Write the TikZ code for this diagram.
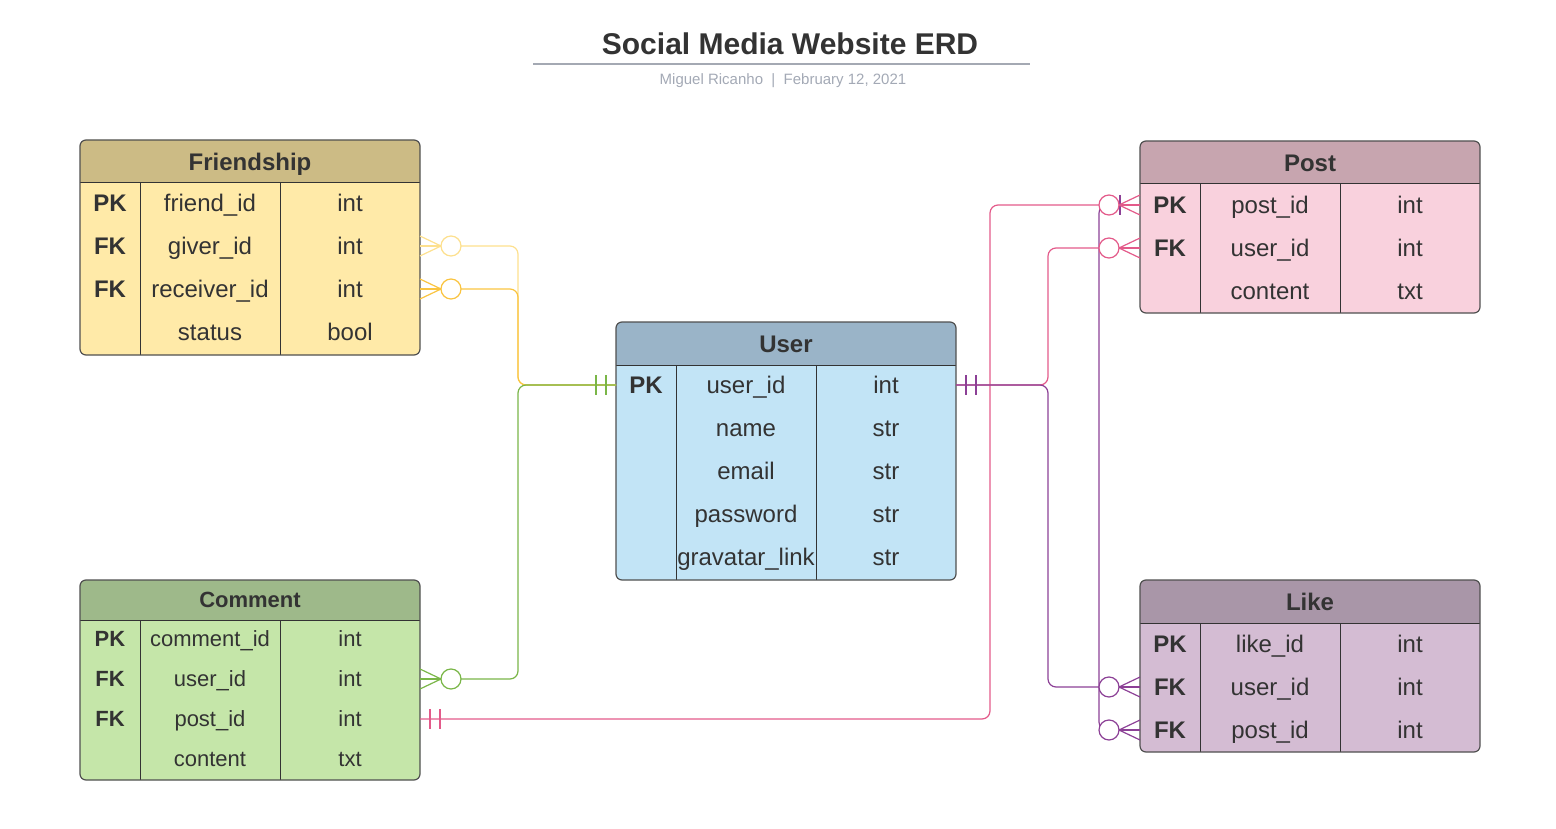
\documentclass[tikz,border=0pt]{standalone}
\usepackage{fontspec}
\setmainfont{Liberation Sans}
\usepackage{xcolor}
\definecolor{textColor}{RGB}{51, 51, 51}
\definecolor{boxLine}{RGB}{80, 80, 80}
\definecolor{friendHead}{RGB}{204, 187, 133}
\definecolor{friendBody}{RGB}{255, 234, 168}
\definecolor{commentHead}{RGB}{158, 185, 138}
\definecolor{commentBody}{RGB}{197, 230, 169}
\definecolor{userHead}{RGB}{154, 180, 200}
\definecolor{userBody}{RGB}{194, 228, 246}
\definecolor{postHead}{RGB}{199, 165, 175}
\definecolor{postBody}{RGB}{249, 209, 221}
\definecolor{likeHead}{RGB}{169, 150, 168}
\definecolor{likeBody}{RGB}{212, 188, 211}
\definecolor{giverLine}{RGB}{253, 224, 142}
\definecolor{receiverLine}{RGB}{250, 196, 64}
\definecolor{commentLine}{RGB}{122, 182, 72}
\definecolor{postLine}{RGB}{227, 90, 138}
\definecolor{likeLine}{RGB}{140, 64, 150}
\definecolor{ruleColor}{RGB}{164, 169, 179}
\definecolor{subColor}{RGB}{163, 169, 181}

\tikzset{
    entity/.style n args={3}{draw=boxLine, line width=1.2pt, rounded corners=6pt,
        minimum width=340pt, fill=#2, path picture={
            \begin{scope}[sharp corners]
                \fill[#1] (path picture bounding box.north west) rectangle ([yshift=-#3]path picture bounding box.north east);
                \draw[textColor, line width=1pt] ([yshift=-#3]path picture bounding box.north west) -- ([yshift=-#3]path picture bounding box.north east);
                \draw[textColor, line width=1pt] ([xshift=60pt, yshift=-#3]path picture bounding box.north west) -- ([xshift=60pt]path picture bounding box.south west);
                \draw[textColor, line width=1pt] ([xshift=200pt, yshift=-#3]path picture bounding box.north west) -- ([xshift=200pt]path picture bounding box.south west);
            \end{scope}}},
    bigtext/.style={font=\fontsize{24}{28}\selectfont, text height=22pt, text depth=4.8pt},
    smalltext/.style={font=\fontsize{22}{26}\selectfont, text height=20.2pt, text depth=4.4pt},
    headtext/.style={bigtext, font=\fontsize{24}{28}\selectfont\bfseries},
    keytext/.style={bigtext, font=\fontsize{24}{28}\selectfont\bfseries},
    celltext/.style={bigtext},
    rel/.style={line width=1.2pt, rounded corners=8pt},
    endline/.style={line width=1.2pt},
    pics/manyend/.style={code={
        \draw (0,-10) -- (-21,0) -- (0,10);
        \draw (0,0) -- (-21,0);
        \draw[fill=white] (-31,0) circle (10pt);
    }},
    pics/oneend/.style={code={
        \draw (-10,-10) -- (-10,10);
        \draw (-20,-10) -- (-20,10);
    }},
    pics/onebar/.style={code={
        \draw (-20,-10) -- (-20,10);
    }},
}

\begin{document}
\begin{tikzpicture}[x=1pt, y=-1pt,
    every node/.style={text=textColor, inner sep=0pt, outer sep=0pt}]
    \useasboundingbox (0,0) rectangle (1556,829);

    % Title
    \node[font=\fontsize{30}{36}\selectfont\bfseries, text height=27.6pt, text depth=6pt] (title) at (790,44) {Social Media Website ERD};
    \draw[ruleColor, line width=1.5pt] (533,64) -- (1030,64);
    \node[text=subColor, font=\fontsize{15}{18}\selectfont, text height=13.8pt, text depth=3pt] (byline) at (783,79) {Miguel Ricanho~~|~~February 12, 2021};

    % Friendship
    \node[entity={friendHead}{friendBody}{43pt}, minimum height=215pt] (friendship) at (250,247.5) {};
    \node[headtext] (friendship-title) at (250,161.5) {Friendship};
    \foreach \pk/\fld/\typ [count=\i] in {PK/friend\_id/int, FK/giver\_id/int, FK/receiver\_id/int, /status/bool} {
        \node[keytext] (friendship-k\i) at (110,160+43*\i) {\pk};
        \node[celltext] (friendship-f\i) at (210,160+43*\i) {\fld};
        \node[celltext] (friendship-t\i) at (350,160+43*\i) {\typ};
    }

    % Comment
    \node[entity={commentHead}{commentBody}{40pt}, minimum height=200pt] (comment) at (250,680) {};
    \node[smalltext, font=\fontsize{22}{26}\selectfont\bfseries] (comment-title) at (250,600) {Comment};
    \foreach \pk/\fld/\typ [count=\i] in {PK/comment\_id/int, FK/user\_id/int, FK/post\_id/int, /content/txt} {
        \node[smalltext, font=\fontsize{22}{26}\selectfont\bfseries] (comment-k\i) at (110,599+40*\i) {\pk};
        \node[smalltext] (comment-f\i) at (210,599+40*\i) {\fld};
        \node[smalltext] (comment-t\i) at (350,599+40*\i) {\typ};
    }

    % User
    \node[entity={userHead}{userBody}{43pt}, minimum height=258pt] (user) at (786,451) {};
    \node[headtext] (user-title) at (786,343.5) {User};
    \foreach \pk/\fld/\typ [count=\i] in {PK/user\_id/int, /name/str, /email/str, /password/str, /gravatar\_link/str} {
        \node[keytext] (user-k\i) at (646,342+43*\i) {\pk};
        \node[celltext] (user-f\i) at (746,342+43*\i) {\fld};
        \node[celltext] (user-t\i) at (886,342+43*\i) {\typ};
    }

    % Post
    \node[entity={postHead}{postBody}{43pt}, minimum height=172pt] (post) at (1310,227) {};
    \node[headtext] (post-title) at (1310,162.5) {Post};
    \foreach \pk/\fld/\typ [count=\i] in {PK/post\_id/int, FK/user\_id/int, /content/txt} {
        \node[keytext] (post-k\i) at (1170,162+43*\i) {\pk};
        \node[celltext] (post-f\i) at (1270,162+43*\i) {\fld};
        \node[celltext] (post-t\i) at (1410,162+43*\i) {\typ};
    }

    % Like
    \node[entity={likeHead}{likeBody}{43pt}, minimum height=172pt] (like) at (1310,666) {};
    \node[headtext] (like-title) at (1310,601.5) {Like};
    \foreach \pk/\fld/\typ [count=\i] in {PK/like\_id/int, FK/user\_id/int, FK/post\_id/int} {
        \node[keytext] (like-k\i) at (1170,601+43*\i) {\pk};
        \node[celltext] (like-f\i) at (1270,601+43*\i) {\fld};
        \node[celltext] (like-t\i) at (1410,601+43*\i) {\typ};
    }

    % Bus lines
    \coordinate (leftbus) at (518,0);
    \coordinate (midbus) at (990,0);
    \coordinate (rightbus) at (1048,0);
    \coordinate (likebus) at (1099,0);

    % Relationships
    \draw[rel, likeLine] (post.west |- post-k1) -| (likebus |- like-k3) -- (like.west |- like-k3);
    \draw[rel, postLine] (comment.east |- comment-k3) -| (midbus |- post-k1) -- (post.west |- post-k1);
    \draw[rel, postLine] (user.east |- user-k1) -| (rightbus |- post-k2) -- (post.west |- post-k2);
    \draw[rel, giverLine] (friendship.east |- friendship-k2) -| (leftbus |- user-k1) -- (user.west |- user-k1);
    \draw[rel, receiverLine] (friendship.east |- friendship-k3) -| (leftbus |- user-k1) -- (user.west |- user-k1);
    \draw[rel, commentLine] (comment.east |- comment-k2) -| (leftbus |- user-k1) -- (user.west |- user-k1);
    \draw[rel, likeLine] (user.east |- user-k1) -| (rightbus |- like-k2) -- (like.west |- like-k2);

    % Ends
    \pic[endline, giverLine, xscale=-1] at (friendship.east |- friendship-k2) {manyend};
    \pic[endline, receiverLine, xscale=-1] at (friendship.east |- friendship-k3) {manyend};
    \pic[endline, commentLine, xscale=-1] at (comment.east |- comment-k2) {manyend};
    \pic[endline, postLine, xscale=-1] at (comment.east |- comment-k3) {oneend};
    \pic[endline, commentLine] at (user.west |- user-k1) {oneend};
    \pic[endline, postLine, xscale=-1] at (user.east |- user-k1) {oneend};
    \pic[endline, likeLine, xscale=-1] at (user.east |- user-k1) {oneend};
    \pic[endline, likeLine] at (post.west |- post-k1) {onebar};
    \pic[endline, postLine] at (post.west |- post-k1) {manyend};
    \pic[endline, postLine] at (post.west |- post-k2) {manyend};
    \pic[endline, likeLine] at (like.west |- like-k2) {manyend};
    \pic[endline, likeLine] at (like.west |- like-k3) {manyend};
\end{tikzpicture}
\end{document}
